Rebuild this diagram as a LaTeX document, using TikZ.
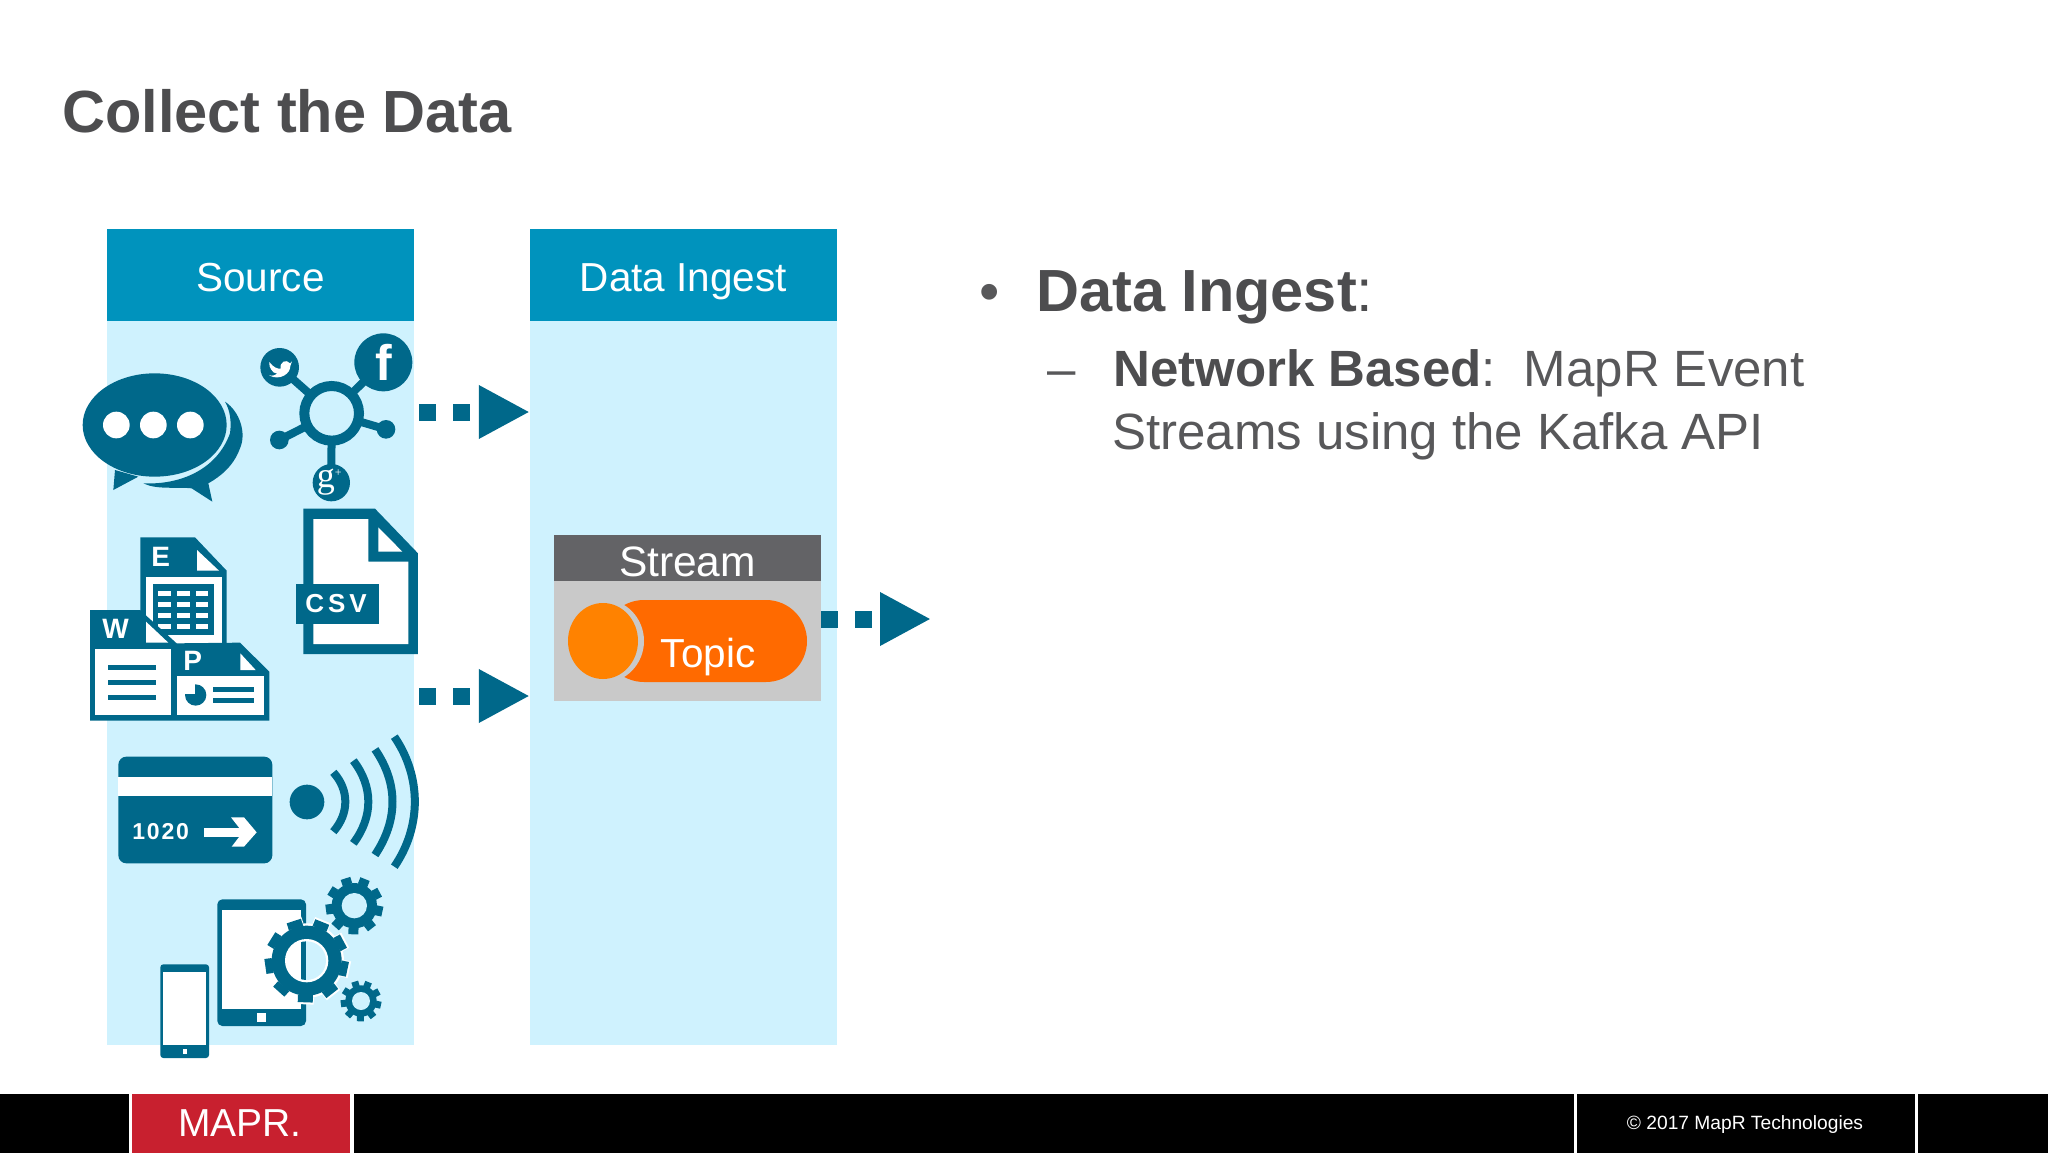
\documentclass[tikz,border=0pt]{standalone}
\usepackage{fontspec}
\setmainfont{Liberation Sans}
\newfontfamily\spacedfont[LetterSpace=15]{Liberation Sans}
\newfontfamily\cardfont[LetterSpace=8]{Liberation Sans}
\newfontfamily\glyphserif{Liberation Serif}
\usetikzlibrary{arrows.meta,shapes.geometric}
\definecolor{teal}{HTML}{00688A}
\definecolor{panelblue}{HTML}{CFF2FE}
\definecolor{headblue}{HTML}{0093BD}
\definecolor{slatetext}{HTML}{4D4D4F}
\definecolor{greytext}{HTML}{58585A}
\definecolor{streamhead}{HTML}{636366}
\definecolor{streambody}{HTML}{C9C9C9}
\definecolor{pillorange}{HTML}{FF6A00}
\definecolor{dotorange}{HTML}{FF8200}
\definecolor{maprred}{HTML}{C8202F}
\newcommand{\gearicon}[5]{
    \foreach \a in {0,40,...,320}{
        \draw[#5,line width=#4](#1)++(\a+12:#3-2)--++(\a+12:#2-#3+2);
    }
    \fill[#5](#1)circle(#3);
}
\begin{document}
\begin{tikzpicture}[x=1pt,y=-1pt,
    panel/.style={fill=panelblue,minimum width=307pt,minimum height=724pt,inner sep=0pt},
    headbox/.style={fill=headblue,text=white,minimum width=307pt,minimum height=92pt,inner sep=0pt,text height=35pt,text depth=3pt,font=\fontsize{40.5}{48}\selectfont},
    flowline/.style={teal,line width=17pt,dash pattern=on 17pt off 17pt,-{Triangle[length=51pt,width=50pt]}},
    ink/.style={fill=teal},
    blank/.style={fill=white},
    label/.style={anchor=base west,inner sep=0pt},
    docletter/.style={text=white,inner sep=0pt,font=\fontsize{28}{28}\selectfont\bfseries},
    separator/.style={fill=white}]
    \useasboundingbox(0,0)rectangle(2048,1153);
    \fill[white](0,0)rectangle(2048,1153);

    \node[label,text=slatetext,font=\fontsize{59.5}{70}\selectfont\bfseries](title)at(62,133){Collect the Data};

    \node[panel](sourcePanel)at(260.5,683){};
    \node[panel](ingestPanel)at(683.5,683){};
    \node[headbox](sourceHead)at(260.5,275){Source};
    \node[headbox](ingestHead)at(683.5,275){Data Ingest};

    \node[fill=streamhead,text=white,minimum width=267pt,minimum height=46pt,inner sep=0pt,text height=37pt,text depth=1pt,font=\fontsize{42.5}{48}\selectfont](streamHead)at(687.5,558){Stream};
    \node[fill=streambody,minimum width=267pt,minimum height=120pt,inner sep=0pt](streamBody)at(687.5,641){};
    \node[fill=pillorange,rounded corners=41pt,minimum width=204pt,minimum height=82pt,inner sep=0pt](topicPill)at(705,641){};
    \node[ellipse,fill=streambody,minimum width=82pt,minimum height=84pt,inner sep=0pt](topicGap)at(603,641){};
    \node[fill=dotorange,minimum width=70pt,minimum height=76pt,inner sep=0pt,ellipse](topicDot)at(603,641){};
    \node[text=white,anchor=base,inner sep=0pt,font=\fontsize{40.5}{44}\selectfont](topicText)at(708,667){Topic};

    \coordinate(firstOut)at(419,412);
    \coordinate(secondOut)at(419,696);
    \coordinate(thirdOut)at(931,619);
    \draw[flowline](firstOut)--(firstOut-|ingestPanel.west);
    \draw[flowline](secondOut)--(secondOut-|ingestPanel.west);
    \draw[flowline](streamBody.east|-thirdOut)--(thirdOut);

    \begin{scope}[shift={(70,320)},scale=1/3]
        \fill[ink](135,450)--(130,510)--(205,470)--cycle;
        \fill[ink](465,245).. controls (510,275) and (530,340) .. (510,385).. controls (490,440) and (450,470) .. (415,490)--(427,545)--(365,505).. controls (320,500) and (260,510) .. (220,490).. controls (330,495) and (440,450) .. (480,340).. controls (485,305) and (480,270) .. (465,245)--cycle;
        \fill[ink](254,315)ellipse(216 and 155);
        \foreach \x in {139,250,361}{
            \fill[blank](\x,315)circle(40);
        }

        \draw[teal,line width=8pt](785,280)--(629,142);
        \draw[teal,line width=8pt](785,280)--(940,127);
        \draw[teal,line width=8pt](785,280)--(628,360);
        \draw[teal,line width=8pt](785,280)--(948,328);
        \draw[teal,line width=8pt](785,280)--(784,488);
        \fill[ink](629,142)circle(58);
        \fill[ink](940,127)circle(87);
        \fill[ink](784,488)circle(56);
        \fill[ink](628,360)circle(28);
        \fill[ink](948,328)circle(28);
        \draw[teal,line width=10pt,fill=panelblue](785,280)circle(82);
        \fill[blank](598,126).. controls (610,142) and (622,147) .. (632,146).. controls (628,125) and (650,116) .. (660,130)--(666,124)--(661,138).. controls (662,160) and (630,184) .. (597,166).. controls (608,168) and (616,166) .. (622,161).. controls (612,160) and (607,155) .. (604,149).. controls (600,142) and (596,136) .. (598,126)--cycle;
        \node[text=white,inner sep=0pt,font=\fontsize{50}{50}\selectfont\bfseries](fbGlyph)at(940,127){f};
        \node[text=white,inner sep=0pt,font=\fontsize{36}{36}\glyphserif](gGlyph)at(778,486){g\raisebox{11pt}{\fontsize{12}{12}\selectfont+}};

        \fill[ink](700,566)--(915,566)--(1044,700)--(1044,1002)--(700,1002)--cycle;
        \fill[blank](730,597)--(895,597)--(895,725)--(1015,725)--(1015,972)--(730,972)--cycle;
        \fill[blank](925,622)--(997,695)--(925,695)--cycle;
        \fill[ink](677,791)rectangle(927,911);
        \node[text=white,inner sep=0pt,font=\fontsize{26}{26}\spacedfont\bfseries](csvText)at(798,851){CSV};

        \fill[ink](211,652)--(375,652)--(470,752)--(470,990)--(211,990)--cycle;
        \fill[blank](228,770)rectangle(456,980);
        \fill[blank](381,690)--(447,752)--(381,752)--cycle;
        \fill[ink](248,793)rectangle(432,945);
        \foreach \x in {265,321,377}{
            \foreach \y in {812,845,878,912}{
                \fill[blank](\x,\y)rectangle(\x+38,\y+15);
            }
        }
        \node[docletter](eText)at(272,710){E};

        \fill[ink](60,870)--(210,870)--(320,970)--(510,968)--(598,1055)--(598,1202)--(60,1202)--cycle;
        \fill[blank](228,905)--(295,968)--(228,968)--cycle;
        \fill[blank](76,988)rectangle(303,1185);
        \foreach \y in {1035,1080,1125}{
            \fill[ink](115,\y)rectangle(258,\y+15);
        }
        \node[docletter](wText)at(137,928){W};
        \fill[blank](511,1000)--(557,1050)--(511,1050)--cycle;
        \fill[blank](320,1068)rectangle(582,1185);
        \fill[ink](377,1125)circle(32);
        \fill[blank](340,1090)rectangle(375,1122);
        \fill[ink](430,1100)rectangle(552,1117);
        \fill[ink](430,1134)rectangle(552,1150);
        \node[docletter](pText)at(368,1022){P};
    \end{scope}

    \begin{scope}[shift={(70,720)},scale=1/3]
        \fill[ink,rounded corners=8pt](145,110)rectangle(607,430);
        \fill[blank](145,172)rectangle(607,228);
        \node[text=white,inner sep=0pt,font=\fontsize{23}{23}\cardfont\bfseries](cardText)at(272,335){1020};
        \fill[blank](403,323)rectangle(520,350);
        \fill[blank](483,292)--(522,292)--(560,337)--(522,380)--(485,380)--(518,337)--cycle;

        \fill[ink](711,246)circle(52);
        \draw[teal,line width=8pt](790,157).. controls (838,210) and (838,280) .. (790,335);
        \draw[teal,line width=8pt](850,122).. controls (910,200) and (910,290) .. (850,370);
        \draw[teal,line width=8pt](915,88).. controls (985,190) and (985,300) .. (915,405);
        \draw[teal,line width=8pt](973,50).. controls (1055,170) and (1055,320) .. (973,440);

        \fill[ink,rounded corners=5pt](442,538)rectangle(708,918);
        \fill[blank](457,570)rectangle(693,866);
        \fill[blank](562,880)rectangle(587,905);
        \fill[ink,rounded corners=3pt](271,733)rectangle(417,1014);
        \fill[blank](279,755)rectangle(409,975);
        \fill[blank](338,987)rectangle(351,1003);

        \gearicon{710,722}{131}{112}{17pt}{white}
        \gearicon{710,722}{125}{105}{15pt}{teal}
        \fill[blank](710,722)circle(65);
        \begin{scope}
            \clip(710,722)circle(58);
            \fill[panelblue](693,650)rectangle(800,800);
            \fill[ink](693,650)rectangle(708,800);
        \end{scope}
        \gearicon{853,557}{86}{68}{10pt}{teal}
        \fill[panelblue](853,557)circle(38);
        \gearicon{873,843}{61}{47}{7pt}{teal}
        \fill[panelblue](873,843)circle(27);
    \end{scope}

    \node[label,text=greytext,font=\fontsize{58}{60}\selectfont](mainBullet)at(979,311){•};
    \node[label,text=slatetext,font=\fontsize{59.5}{66}\selectfont](mainText)at(1036,311){\textbf{Data Ingest}:};
    \node[label,text=greytext,font=\fontsize{51}{58}\selectfont](subDash)at(1047,386){–};
    \node[label,text=greytext,font=\fontsize{51}{58}\selectfont](subFirst)at(1113,386){\textcolor{slatetext}{\textbf{Network Based}}:\hspace{28pt}MapR Event};
    \node[label,text=greytext,font=\fontsize{51}{58}\selectfont](subSecond)at(1112,449){Streams using the Kafka API};

    \fill[black](0,1094)rectangle(2048,1153);
    \fill[maprred](131,1094)rectangle(351,1153);
    \fill[separator](129,1094)rectangle(132,1153);
    \fill[separator](350,1094)rectangle(354,1153);
    \fill[separator](1574,1094)rectangle(1577,1153);
    \fill[separator](1915,1094)rectangle(1918,1153);
    \node[text=white,inner sep=0pt,font=\fontsize{39}{40}\selectfont](logoText)at(240,1123){MAPR.};
    \node[text=white,inner sep=0pt,font=\fontsize{19.2}{24}\selectfont](copyText)at(1745,1124.5){© 2017 MapR Technologies};
\end{tikzpicture}
\end{document}
